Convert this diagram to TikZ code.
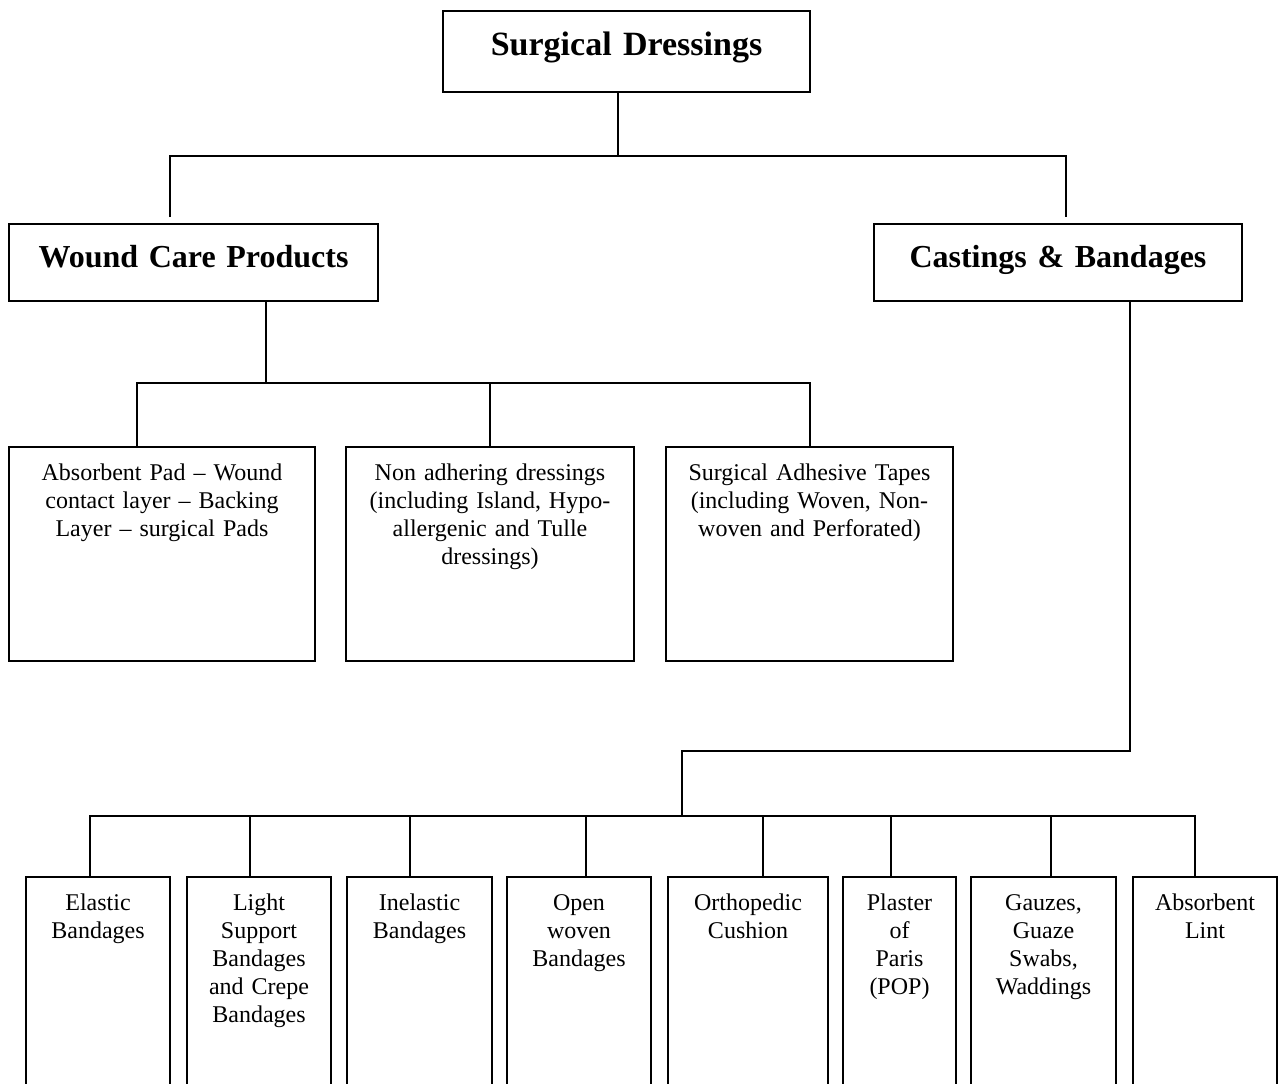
\documentclass[tikz,border=0pt]{standalone}
\usepackage{fontspec}
\setmainfont{Liberation Serif}
\begin{document}
\begin{tikzpicture}[x=0.5pt,y=-0.5pt,
  panel/.style={draw=black,line width=1pt,fill=none,inner sep=0pt,outer sep=0pt},
  link/.style={draw=black,line width=1pt},
  body/.style={anchor=base,inner sep=0pt,align=center,text width=#1,
    font=\fontsize{12pt}{14pt}\selectfont},
  body/.default=140pt,
  head/.style={anchor=base,inner sep=0pt,align=center,text width=#1,
    font=\fontsize{16pt}{19pt}\selectfont\bfseries},
  head/.default=180pt]
\newcommand\panelbox[5]{%
  \node[panel,minimum width={(#4-#2)*0.5pt},minimum height={(#5-#3)*0.5pt}]
    (#1) at ({(#2+#4)/2},{(#3+#5)/2}) {};}
\useasboundingbox (0,0) rectangle (1281,1083);
\clip (0,0) rectangle (1281,1083);

% --- level 0 ---
\panelbox{top}{443}{11}{810}{92}
\node[head=180pt,font=\fontsize{17pt}{20pt}\selectfont\bfseries] (ttop) at (626.5,55) {Surgical Dressings};

% --- level 1 ---
\panelbox{wound}{9}{224}{378}{301}
\node[head] (twound) at (193.5,267) {Wound Care Products};
\panelbox{cast}{874}{224}{1242}{301}
\node[head] (tcast) at (1058,267) {Castings \& Bandages};

% --- wound care products ---
\panelbox{m1}{9}{447}{315}{661}
\node[body=150pt] (tm1) at (162,480) {Absorbent Pad – Wound\\contact layer – Backing\\Layer – surgical Pads};
\panelbox{m2}{346}{447}{634}{661}
\node[body=150pt] (tm2) at (490,480) {Non adhering dressings\\(including Island, Hypo-\\allergenic and Tulle\\dressings)};
\panelbox{m3}{666}{447}{953}{661}
\node[body=150pt] (tm3) at (809.5,480) {Surgical Adhesive Tapes\\(including Woven, Non-\\woven and Perforated)};

% --- castings and bandages (boxes run past the lower edge) ---
\panelbox{b1}{26}{877}{170}{1100}
\node[body=70pt] (tb1) at (98,910) {Elastic\\Bandages};
\panelbox{b2}{187}{877}{331}{1100}
\node[body=70pt] (tb2) at (259,910) {Light\\Support\\Bandages\\and Crepe\\Bandages};
\panelbox{b3}{347}{877}{492}{1100}
\node[body=70pt] (tb3) at (419.5,910) {Inelastic\\Bandages};
\panelbox{b4}{507}{877}{651}{1100}
\node[body=70pt] (tb4) at (579,910) {Open\\woven\\Bandages};
\panelbox{b5}{668}{877}{828}{1100}
\node[body=70pt] (tb5) at (748,910) {Orthopedic\\Cushion};
\panelbox{b6}{843}{877}{956}{1100}
\node[body=56pt] (tb6) at (899.5,910) {Plaster\\of\\Paris\\(POP)};
\panelbox{b7}{971}{877}{1116}{1100}
\node[body=70pt] (tb7) at (1043.5,910) {Gauzes,\\Guaze\\Swabs,\\Waddings};
\panelbox{b8}{1133}{877}{1277}{1100}
\node[body=70pt] (tb8) at (1205,910) {Absorbent\\Lint};

% --- connectors ---
\coordinate (j1) at (618,156);
\coordinate (wl) at (170,217);
\coordinate (cr) at (1066,217);
\draw[link] (top.south -| j1) -- (j1);
\draw[link] (wl) |- (j1) -| (cr);

\coordinate (j2) at (266,383);
\draw[link] (wound.south -| j2) -- (j2);
\draw[link] (m1.north -| 137,0) |- (j2) -| (m3.north -| 810,0);
\draw[link] (m2.north -| 490,0) -- (490,383);

\coordinate (j3) at (1130,751);
\coordinate (j4) at (682,816);
\draw[link] (cast.south -| j3) -- (j3) -| (j4);
\draw[link] (b1.north -| 90,0) |- (j4) -| (b8.north -| 1195,0);
\draw[link] (b2.north -| 250,0) -- (250,816);
\draw[link] (b3.north -| 410,0) -- (410,816);
\draw[link] (b4.north -| 586,0) -- (586,816);
\draw[link] (b5.north -| 763,0) -- (763,816);
\draw[link] (b6.north -| 891,0) -- (891,816);
\draw[link] (b7.north -| 1051,0) -- (1051,816);
\end{tikzpicture}
\end{document}
